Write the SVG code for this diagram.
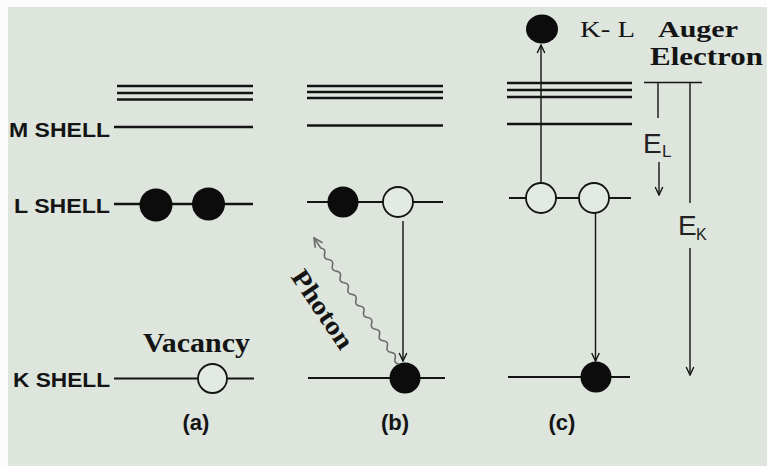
<svg xmlns="http://www.w3.org/2000/svg" width="767" height="466" viewBox="0 0 767 466">
<defs>
<style>
.lv{stroke:#141414;stroke-width:2.4;fill:none}
.sh{stroke:#141414;stroke-width:2;fill:none}
.full{fill:#0c0c0c}
.hole{fill:#e3eae3;stroke:#141414;stroke-width:1.8}
.ln{stroke:#141414;stroke-width:1.4;fill:none}
.arr{stroke:#141414;stroke-width:1.4;fill:none;marker-end:url(#ah)}
.lab{font-family:"Liberation Sans",Arial,sans-serif;font-weight:bold;font-size:20px;fill:#141414}
.sub{font-family:"Liberation Sans",Arial,sans-serif;font-weight:bold;font-size:22px;fill:#141414}
.en{font-family:"Liberation Sans",Arial,sans-serif;fill:#222}
.serif{font-family:"Liberation Serif","Times New Roman",serif;fill:#141414}
</style>
<marker id="ah" viewBox="0 0 10 10" refX="9" refY="5" markerWidth="10" markerHeight="10" markerUnits="userSpaceOnUse" orient="auto"><path d="M1,1.2 L9,5 L1,8.8" fill="none" stroke="#141414" stroke-width="1.4"/></marker>
<marker id="ahg" viewBox="0 0 10 10" refX="9" refY="5" markerWidth="11" markerHeight="11" markerUnits="userSpaceOnUse" orient="auto"><path d="M1,1 L9,5 L1,9" fill="none" stroke="#6e6e6e" stroke-width="1.6"/></marker>
</defs>
<rect x="0" y="0" width="767" height="466" fill="#fbfcfb"/>
<rect x="8" y="7" width="759" height="459" fill="#dde5dd"/>

<g id="shell-labels">
<text class="lab" x="9" y="137" textLength="101" lengthAdjust="spacingAndGlyphs">M SHELL</text>
<text class="lab" x="14" y="213" textLength="96" lengthAdjust="spacingAndGlyphs">L SHELL</text>
<text class="lab" x="13" y="387" textLength="97" lengthAdjust="spacingAndGlyphs">K SHELL</text>
</g>

<g id="panel-a">
<line class="lv" x1="117" y1="86" x2="253" y2="86" stroke-width="3.4"/>
<line class="lv" x1="117" y1="93" x2="253" y2="93"/>
<line class="lv" x1="117" y1="99.5" x2="253" y2="99.5"/>
<line class="lv" x1="114" y1="127" x2="253" y2="127"/>
<line class="lv" x1="114" y1="204" x2="253" y2="204"/>
<circle class="full" cx="156" cy="205" r="16.5"/>
<circle class="full" cx="208.5" cy="204" r="16.5"/>
<line class="sh" x1="114" y1="378.5" x2="254" y2="378.5"/>
<circle class="hole" cx="212.5" cy="378.5" r="14.5"/>
<text class="serif" x="143" y="352" font-size="27" font-weight="bold" textLength="107" lengthAdjust="spacingAndGlyphs">Vacancy</text>
<text class="sub" x="196" y="430" text-anchor="middle">(a)</text>
</g>

<g id="panel-b">
<line class="lv" x1="307" y1="86" x2="443" y2="86"/>
<line class="lv" x1="307" y1="92" x2="443" y2="92"/>
<line class="lv" x1="307" y1="98" x2="443" y2="98"/>
<line class="lv" x1="307" y1="125.5" x2="443" y2="125.5"/>
<line class="sh" x1="307" y1="202" x2="443" y2="202"/>
<circle class="full" cx="343" cy="202" r="15.5"/>
<circle class="hole" cx="398" cy="202" r="15"/>
<line class="sh" x1="308" y1="378" x2="445" y2="378"/>
<circle class="full" cx="405" cy="378" r="15.5"/>
<text class="serif" transform="translate(323,309) rotate(56)" x="0" y="9" font-size="26" font-weight="bold" text-anchor="middle" textLength="90" lengthAdjust="spacingAndGlyphs">Photon</text>
<text class="sub" x="395" y="430" text-anchor="middle">(b)</text>
</g>

<g id="panel-c">
<line class="lv" x1="507" y1="83" x2="632" y2="83"/>
<line class="lv" x1="507" y1="90" x2="632" y2="90"/>
<line class="lv" x1="507" y1="97" x2="632" y2="97"/>
<line class="lv" x1="507" y1="124" x2="632" y2="124"/>
<line class="sh" x1="509" y1="198" x2="631" y2="198"/>
<circle class="hole" cx="541" cy="198" r="15"/>
<circle class="hole" cx="594" cy="198" r="15"/>
<line class="sh" x1="508" y1="377" x2="630" y2="377"/>
<circle class="full" cx="596" cy="377" r="15.5"/>
<ellipse class="full" cx="542" cy="29" rx="16" ry="14.5"/>
<text class="serif" x="580" y="37" font-size="24" textLength="55" lengthAdjust="spacingAndGlyphs">K- L</text>
<text class="serif" x="658" y="37" font-size="24" font-weight="bold" textLength="80" lengthAdjust="spacingAndGlyphs">Auger</text>
<text class="serif" x="650" y="65" font-size="26" font-weight="bold" textLength="113" lengthAdjust="spacingAndGlyphs">Electron</text>
<text class="sub" x="562" y="430" text-anchor="middle">(c)</text>
</g>

<g id="energy-scale">
<line class="ln" x1="644" y1="82.5" x2="702" y2="82.5" stroke-width="1.8"/>
<line class="ln" x1="658" y1="82" x2="658" y2="118"/>
<line class="ln" x1="690" y1="82" x2="690" y2="203"/>
<text class="en" x="643" y="153" font-size="28">E</text>
<text class="en" x="662" y="157" font-size="17">L</text>
<text class="en" x="678" y="235" font-size="28">E</text>
<text class="en" x="696" y="240" font-size="16">K</text>
</g>

<g id="connectors">
<line class="arr" x1="403" y1="221" x2="403" y2="361"/>
<line class="arr" x1="595.5" y1="213" x2="595.5" y2="361"/>
<line class="arr" x1="541" y1="183" x2="541" y2="45"/>
<line class="arr" x1="659" y1="162" x2="659" y2="195"/>
<line class="arr" x1="690" y1="248" x2="690" y2="375"/>
<path transform="translate(399,364) rotate(-124)" d="M0,0 q3.5,-4 7,0 t7,0 t7,0 t7,0 t7,0 t7,0 t7,0 t7,0 t7,0 t7,0 t7,0 t7,0 t7,0 t7,0 t7,0 t7,0 t7,0 t7,0 t7,0 t7,0 L152,0" fill="none" stroke="#6e6e6e" stroke-width="1.6" marker-end="url(#ahg)"/>
</g>
</svg>
